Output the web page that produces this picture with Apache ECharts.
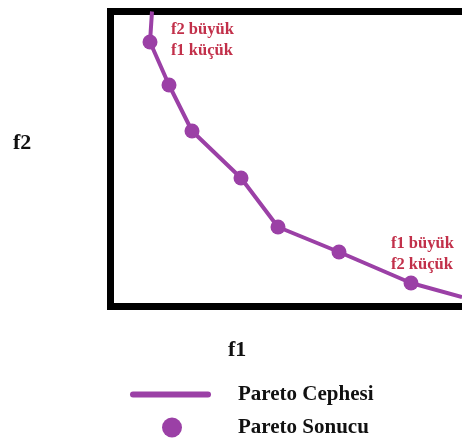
<!DOCTYPE html>
<html><head><meta charset="utf-8">
<script src="https://cdn.jsdelivr.net/npm/echarts@6/dist/echarts.min.js"></script>
<style>html,body{margin:0;padding:0;background:#fff}#c{width:462px;height:441px}</style>
</head><body><div id="c"></div>
<script>
// Pareto front (f1, f2), in plot units
const frontF1 = [41.5, 39.5, 58.5, 81.5, 130.5, 167.5, 228.5, 300.5, 351.5];
const frontF2 = [295, 264.5, 221.5, 175.5, 128.5, 79.5, 54.5, 23.5, 9.5];
// Pareto solutions
const solF1 = [39.5, 58.5, 81.5, 130.5, 167.5, 228.5, 300.5];
const solF2 = [264.5, 221.5, 175.5, 128.5, 79.5, 54.5, 23.5];
const seriesNames = ['Pareto Cephesi', 'Pareto Sonucu'];
const axisLabels = ['f1', 'f2'];
const notes = [['f2 büyük', 'f1 küçük'], ['f1 büyük', 'f2 küçük']];

const purple = '#9b40a6';
const red = '#c2304a';
const font = '"Liberation Serif", "Times New Roman", serif';
const border = {show: true, lineStyle: {color: '#000', width: 7, cap: 'square'}};

const chart = echarts.init(document.getElementById('c'), null, {renderer: 'canvas'});
chart.setOption({
  animation: false,
  backgroundColor: '#fff',
  grid: {left: 110.5, top: 11.5, right: 0, bottom: 134.5},
  xAxis: [
    {type: 'value', min: 0, max: 351.5, position: 'bottom', axisLine: border,
     axisTick: {show: false}, axisLabel: {show: false}, splitLine: {show: false}},
    {type: 'value', min: 0, max: 351.5, position: 'top', axisLine: border,
     axisTick: {show: false}, axisLabel: {show: false}, splitLine: {show: false}}
  ],
  yAxis: {type: 'value', min: 0, max: 295, position: 'left', axisLine: border,
          axisTick: {show: false}, axisLabel: {show: false}, splitLine: {show: false}},
  legend: [
    {data: [seriesNames[0]], left: 125, top: 379, itemWidth: 81, itemHeight: 6,
     icon: 'path://M3,0 L78,0 A3,3 0 0 1 78,6 L3,6 A3,3 0 0 1 3,0 Z',
     textStyle: {fontFamily: font, fontWeight: 'bold', fontSize: 21, color: '#111', padding: [0,0,0,22]}},
    {data: [seriesNames[1]], left: 157, top: 412, itemWidth: 20, itemHeight: 20, icon: 'circle',
     textStyle: {fontFamily: font, fontWeight: 'bold', fontSize: 21, color: '#111', padding: [0,0,0,51]}}
  ],
  series: [
    {name: seriesNames[0], type: 'line', data: frontF1.map((x, i) => [x, frontF2[i]]),
     showSymbol: false, lineStyle: {color: purple, width: 4}, itemStyle: {color: purple}, clip: true, z: 2},
    {name: seriesNames[1], type: 'scatter', data: solF1.map((x, i) => [x, solF2[i]]),
     symbolSize: 15, itemStyle: {color: purple, opacity: 1}, z: 3}
  ],
  graphic: [
    {type: 'text', left: 228, top: 339, style: {text: axisLabels[0], font: 'bold 22px ' + font, fill: '#111'}},
    {type: 'text', left: 13, top: 132, style: {text: axisLabels[1], font: 'bold 22px ' + font, fill: '#111'}},
    {type: 'text', left: 171, top: 19, style: {text: notes[0].join('\n'), font: 'bold 16.5px ' + font, fill: red, lineHeight: 21}},
    {type: 'text', left: 391, top: 233, style: {text: notes[1].join('\n'), font: 'bold 16.5px ' + font, fill: red, lineHeight: 21}}
  ]
});
</script></body></html>
